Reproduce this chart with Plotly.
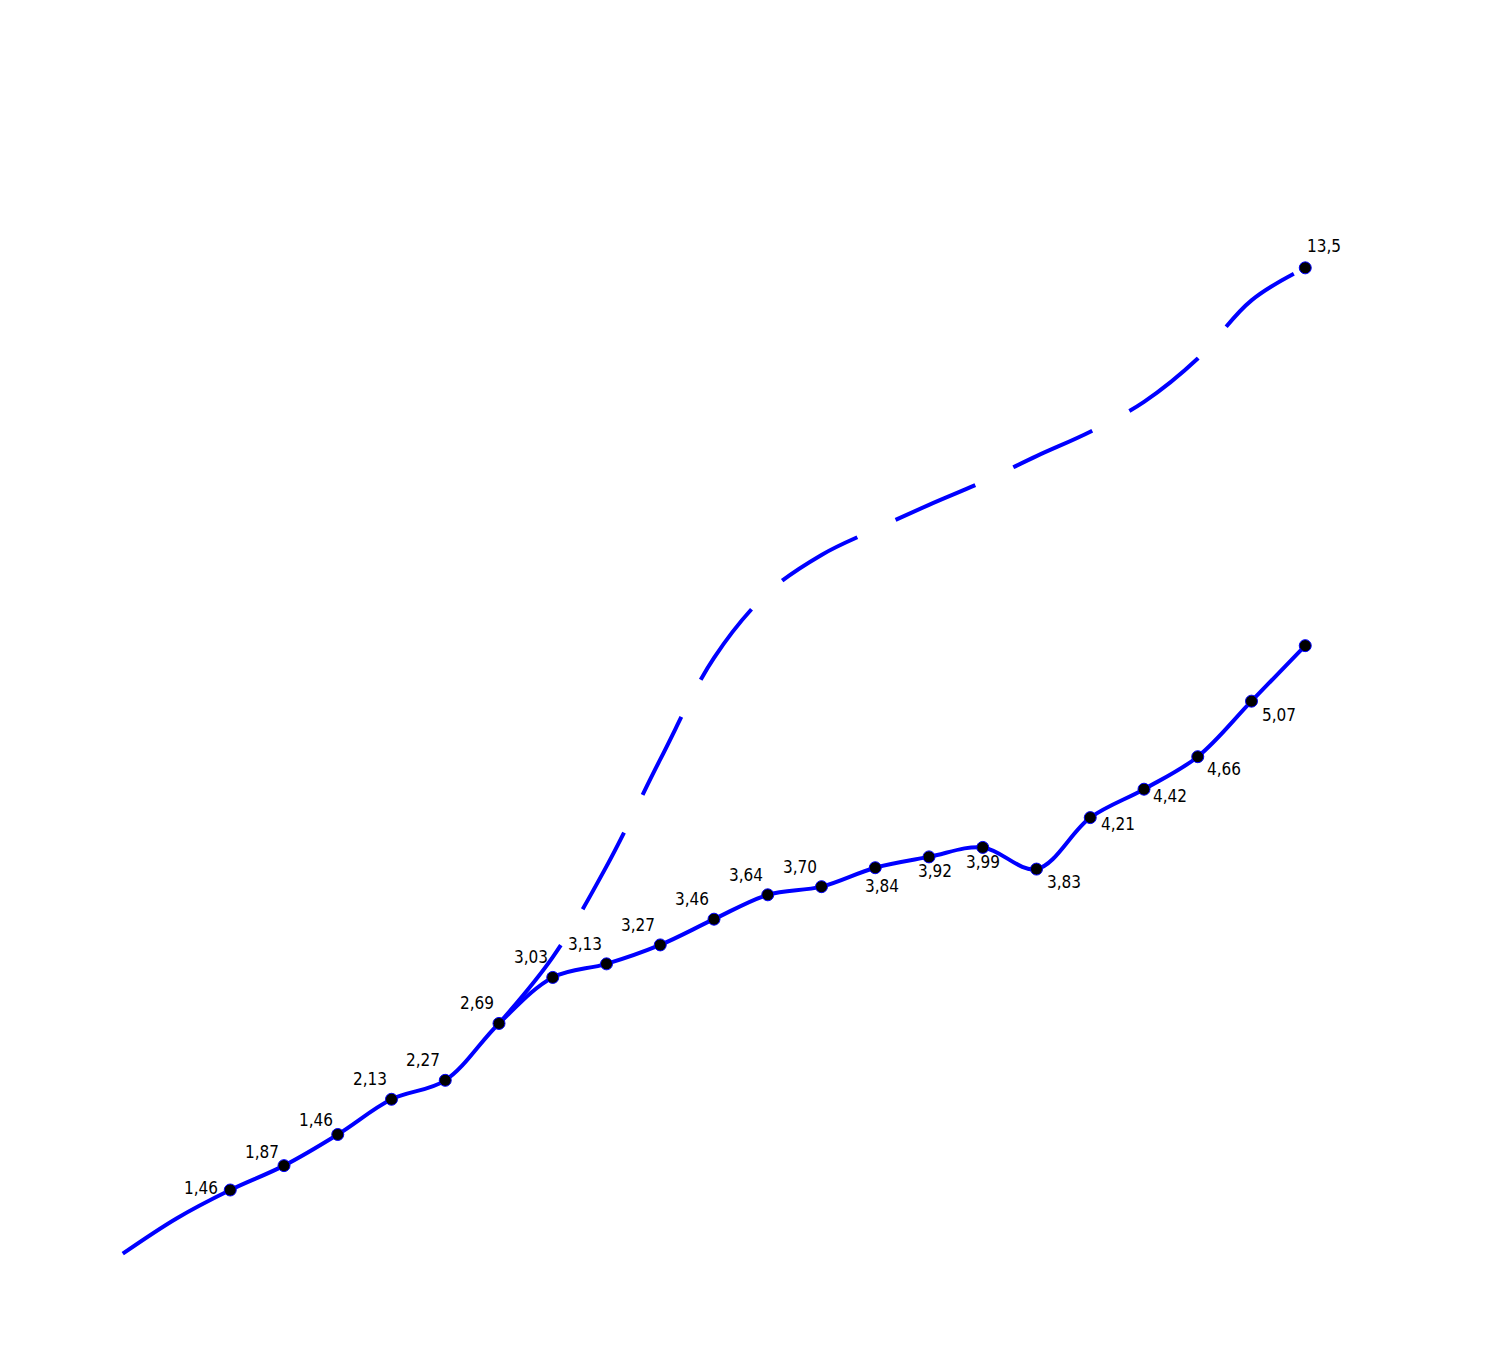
import plotly.graph_objects as go

# Solid series (index positions along the x direction)
x_main = list(range(0, 23))
y_main = [0.99, 1.25, 1.46, 1.64, 1.87, 2.13, 2.27, 2.69, 3.03, 3.13, 3.27, 3.46,
          3.64, 3.70, 3.84, 3.92, 3.99, 3.83, 4.21, 4.42, 4.66, 5.07, 5.48]
labels_main = ["", "", "1,46", "1,87", "1,46", "2,13", "2,27", "2,69", "3,03", "3,13",
               "3,27", "3,46", "3,64", "3,70", "3,84", "3,92", "3,99", "3,83", "4,21",
               "4,42", "4,66", "5,07", ""]
marker_shown = [0, 0] + [1] * 21

# Dashed series
x_dash = list(range(7, 23))
y_dash = [2.69, 3.18, 3.85, 4.64, 5.39, 5.87, 6.15, 6.34, 6.52, 6.69, 6.88, 7.06,
          7.28, 7.60, 8.03, 8.27]
labels_dash = [""] * 15 + ["13,5"]
marker_dash = [0] * 15 + [1]

# ---- styling ----
LINE_COLOR = "#0000FF"
MARKER_COLOR = "#000000"
FONT = "DejaVu Sans Condensed, sans-serif"
FONT_SIZE = 17

# label placement style for the solid series: (xanchor, yanchor, xshift, yshift)
TL = ("right", "bottom", -3, 8)
TL_LOW = ("right", "bottom", -3, 2)
place_main = [None, None,
              ("right", "middle", -10, 2),
              TL_LOW, TL_LOW, TL, TL, TL, TL, TL, TL, TL, TL, TL,
              ("center", "top", 7, -6),
              ("center", "top", 6, -2),
              ("center", "top", 0, -3),
              ("left", "top", 8, -1),
              ("left", "top", 9, 6),
              ("left", "top", 7, 5),
              ("left", "top", 7, 0),
              ("left", "top", 8, -2),
              None]
place_dash_end = ("left", "bottom", 0, 10)

fig = go.Figure()

fig.add_trace(go.Scatter(
    x=x_dash, y=y_dash, mode="lines+markers",
    line=dict(color=LINE_COLOR, width=4, shape="spline",
              dash="100px,42px" + ",87px,42px" * 12),
    marker=dict(color=MARKER_COLOR, opacity=1, size=[12 * m for m in marker_dash]),
    hoverinfo="skip", showlegend=False, cliponaxis=False,
))

fig.add_trace(go.Scatter(
    x=x_main, y=y_main, mode="lines+markers",
    line=dict(color=LINE_COLOR, width=4, shape="spline"),
    marker=dict(color=MARKER_COLOR, opacity=1, size=[12 * m for m in marker_shown]),
    hoverinfo="skip", showlegend=False, cliponaxis=False,
))


def add_labels(xs, ys, texts, places):
    for xv, yv, t, p in zip(xs, ys, texts, places):
        if not t or p is None:
            continue
        xa, ya, dx, dy = p
        fig.add_annotation(x=xv, y=yv, text=t, showarrow=False,
                           xanchor=xa, yanchor=ya, xshift=dx, yshift=dy,
                           font=dict(family=FONT, size=FONT_SIZE, color="#000000"))


add_labels(x_main, y_main, labels_main, place_main)
add_labels(x_dash, y_dash, labels_dash,
           [None] * (len(labels_dash) - 1) + [place_dash_end])

fig.update_layout(
    width=1500, height=1350,
    margin=dict(l=61, r=149, t=161, b=38, pad=0),
    paper_bgcolor="white", plot_bgcolor="white",
    xaxis=dict(range=[-1, 23], visible=False, fixedrange=True),
    yaxis=dict(range=[0.5, 9.0], visible=False, fixedrange=True),
    hovermode=False,
)

fig.write_html("out.html", config={"displayModeBar": False})
